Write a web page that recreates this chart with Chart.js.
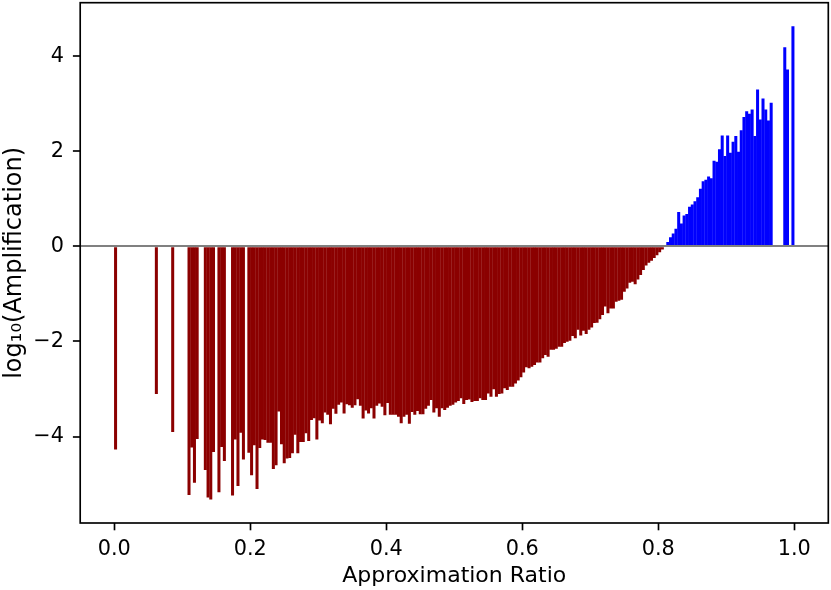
<!DOCTYPE html>
<html>
<head>
<meta charset="utf-8">
<title>Amplification vs approximation ratio</title>
<script src="https://cdn.jsdelivr.net/npm/chart.js@4/dist/chart.umd.min.js"></script>
<style>
  body { margin: 0; background: #fff; }
  canvas { display: block; }
</style>
</head>
<body>
<canvas id="ampChart" width="831" height="590"></canvas>
<script>
// ratio bins are 0.004 wide, value = log10(amplification), null = empty bin
const binWidth = 0.004;
const logAmp = [
    -4.27, null, null, null, null, null, null, null, null, null,
    null, null, null, null, null, -3.10, null, null, null, null,
    null, -3.90, null, null, null, null, null, -5.23, -4.23, -4.97,
    -4.05, null, null, -4.70, -5.28, -5.32, -4.32, null, -5.17, -4.22,
    -4.51, null, null, -5.24, -4.06, -5.04, -3.92, -4.48, null, -4.34,
    -4.81, -4.18, -5.10, -4.24, -4.06, -4.07, -4.13, -4.13, -4.68, -4.60,
    -3.47, -4.16, -4.56, -4.46, -4.45, -4.35, -3.96, -4.35, -4.11, -4.11,
    -3.93, -4.09, -3.65, -3.61, -4.06, -3.66, -3.72, -3.49, -3.54, -3.74,
    -3.41, -3.52, -3.33, -3.28, -3.51, -3.32, -3.34, -3.39, -3.34, -3.21,
    -3.35, -3.62, -3.45, -3.51, -3.40, -3.62, -3.35, -3.30, -3.37, -3.55,
    -3.29, -3.54, -3.54, -3.54, -3.58, -3.72, -3.58, -3.54, -3.73, -3.48,
    -3.54, -3.46, -3.53, -3.53, -3.41, -3.35, -3.23, -3.49, -3.40, -3.58,
    -3.40, -3.44, -3.39, -3.35, -3.33, -3.28, -3.25, -3.19, -3.31, -3.23,
    -3.22, -3.27, -3.25, -3.25, -3.19, -3.23, -3.23, -3.09, -3.16, -3.00,
    -3.16, -3.10, -3.09, -2.98, -3.02, -2.95, -2.95, -2.88, -2.82, -2.75,
    -2.65, -2.54, -2.56, -2.53, -2.49, -2.44, -2.44, -2.35, -2.28, -2.32,
    -2.17, -2.17, -2.15, -2.11, -2.11, -2.03, -2.00, -1.98, -1.88, -1.93,
    -1.75, -1.87, -1.77, -1.84, -1.75, -1.70, -1.61, -1.60, -1.53, -1.44,
    -1.26, -1.40, -1.30, -1.30, -1.16, -1.14, -1.12, -0.95, -0.88, -0.76,
    -0.74, -0.79, -0.69, -0.60, -0.49, -0.40, -0.34, -0.30, -0.24, -0.18,
    -0.12, -0.06, null, 0.09, 0.19, 0.27, 0.37, 0.72, 0.48, 0.65,
    0.68, 0.83, 0.88, 0.95, 1.03, 1.21, 1.37, 1.40, 1.47, 1.43,
    1.80, 1.78, 2.04, 2.33, 1.90, 2.33, 1.97, 2.20, 2.32, 1.99,
    2.44, 2.72, 2.84, 2.79, 2.88, 2.32, 3.30, 2.67, 3.11, 2.88,
    2.65, 3.02, null, null, null, null, 4.19, 3.72, null, 4.63
];
const xTicks = [0, 0.2, 0.4, 0.6, 0.8, 1.0];
const yTicks = [-4, -2, 0, 2, 4];
const xLimits = [-0.05, 1.05];
const yLimits = [-5.82, 5.13];

const spineWidth = 1.67;
const tickLen = 7.3;

const points = [];
logAmp.forEach((v, i) => {
    if (v !== null) points.push({ x: (i + 0.5) * binWidth, y: v });
});

const frame = {
    id: 'frame',
    afterDraw(chart) {
        const { ctx, chartArea: a } = chart;
        ctx.save();
        ctx.strokeStyle = '#000';
        ctx.lineWidth = spineWidth;
        ctx.strokeRect(a.left, a.top, a.right - a.left, a.bottom - a.top);
        ctx.restore();
    }
};

const tickFont = { family: 'DejaVu Sans', size: 20.8 };

new Chart(document.getElementById('ampChart'), {
    type: 'bar',
    data: {
        datasets: [{
            data: points,
            backgroundColor: c => (c.raw && c.raw.y < 0) ? '#8b0000' : '#0000ff',
            borderWidth: 0,
            barPercentage: 1,
            categoryPercentage: 1,
            inflateAmount: 0.15
        }]
    },
    options: {
        responsive: false,
        animation: false,
        layout: { autoPadding: false, padding: { top: 2.7, right: 2.7, left: 0, bottom: 0 } },
        plugins: { legend: { display: false }, tooltip: { enabled: false } },
        scales: {
            x: {
                type: 'linear',
                min: xLimits[0],
                max: xLimits[1],
                offset: false,
                afterBuildTicks: axis => { axis.ticks = xTicks.map(v => ({ value: v })); },
                afterFit: axis => {
                    axis.height = 67;
                    axis.paddingLeft = 0;
                    axis.paddingRight = 0;
                },
                grid: { drawOnChartArea: false, drawTicks: true, tickLength: tickLen, tickColor: '#000', tickWidth: spineWidth, offset: false },
                border: { display: false },
                ticks: { color: '#000', font: tickFont, padding: 7, maxRotation: 0, callback: v => v.toFixed(1) },
                title: {
                    display: true, text: 'Approximation Ratio', color: '#000',
                    font: { family: 'DejaVu Sans', size: 22 }, padding: { top: 0, bottom: 1 }
                }
            },
            y: {
                min: yLimits[0],
                max: yLimits[1],
                afterBuildTicks: axis => { axis.ticks = yTicks.map(v => ({ value: v })); },
                afterFit: axis => {
                    axis.width = 80.2;
                    axis.paddingTop = 0;
                    axis.paddingBottom = 0;
                },
                grid: {
                    z: 1,
                    color: c => c.tick && c.tick.value === 0 ? '#808080' : 'rgba(0,0,0,0)',
                    lineWidth: 2,
                    drawTicks: true,
                    tickLength: tickLen,
                    tickColor: '#000',
                    tickWidth: spineWidth
                },
                border: { display: false },
                ticks: { color: '#000', font: tickFont, padding: 9, callback: v => String(v).replace('-', '\u2212') },
                title: {
                    display: true, text: 'log\u2081\u2080(Amplification)', color: '#000',
                    font: { family: 'DejaVu Sans', size: 24 }, padding: { top: 0, bottom: 0 }
                }
            }
        }
    },
    plugins: [frame]
});
</script>
</body>
</html>
